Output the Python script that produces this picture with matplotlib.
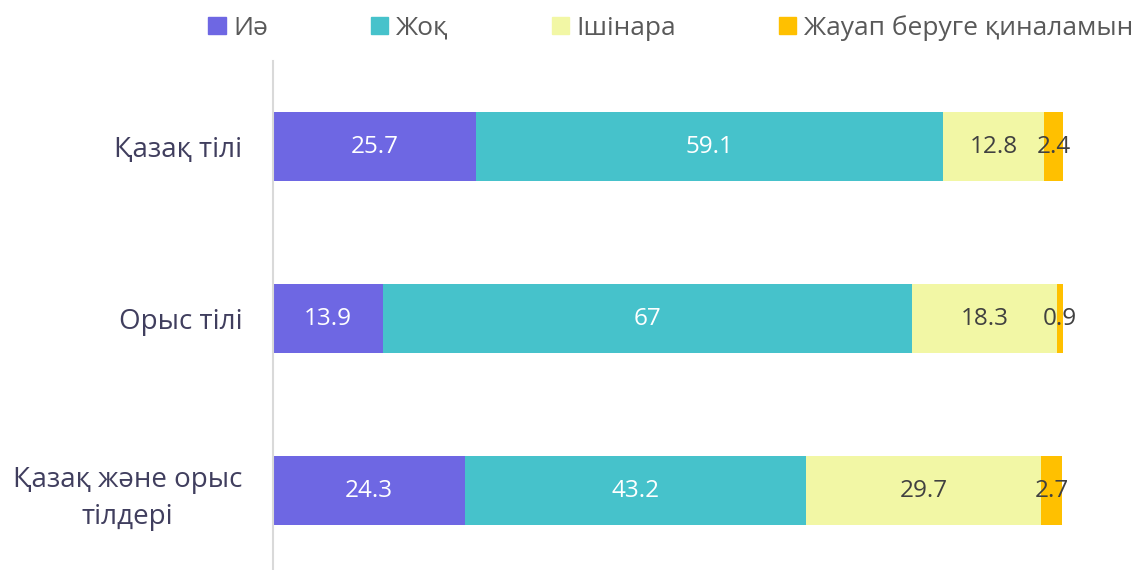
import matplotlib
matplotlib.use('Agg')
import matplotlib.pyplot as plt
from matplotlib.patches import Patch
import numpy as np

plt.rcParams['font.family'] = ['Open Sans', 'Noto Sans', 'DejaVu Sans']

categories = ['Қазақ тілі', 'Орыс тілі', 'Қазақ және орыс\nтілдері']
series_names = ['Иә', 'Жоқ', 'Ішінара', 'Жауап беруге қиналамын']
yes = [25.7, 13.9, 24.3]
no = [59.1, 67, 43.2]
partly = [12.8, 18.3, 29.7]
hard = [2.4, 0.9, 2.7]

colors = ['#6E67E3', '#46C2CB', '#F2F7A5', '#FFC000']
label_colors = ['white', 'white', '#404040', '#404040']

fig = plt.figure(figsize=(11.36, 5.7), dpi=100)
ax = fig.add_axes([273 / 1136, -6.5 / 570, (1063 - 273) / 1136, 516 / 570])

y = np.arange(len(categories))
left = np.zeros(len(categories))
for name, vals, col, lc in zip(series_names, [yes, no, partly, hard], colors, label_colors):
    vals = np.array(vals, dtype=float)
    bars = ax.barh(y, vals, left=left, height=0.4, color=col, label=name)
    for b, v in zip(bars, vals):
        txt = ('%g' % v)
        ax.text(b.get_x() + b.get_width() / 2, b.get_y() + b.get_height() / 2,
                txt, ha='center', va='center', color=lc, fontsize=17.5)
    left += vals

ax.set_xlim(0, 100)
ax.set_ylim(2.5, -0.5)
ax.set_yticks(y)
ax.set_yticklabels(categories, fontsize=20, color='#403E5E',
                   multialignment='center', linespacing=1.45)
ax.tick_params(axis='y', length=0, pad=22)
ax.set_xticks([])
for s in ['top', 'right', 'bottom']:
    ax.spines[s].set_visible(False)
ax.spines['left'].set_color('#D9D9D9')
ax.spines['left'].set_linewidth(1.5)

handles = [Patch(color=c, label=n) for c, n in zip(colors, series_names)]
leg = fig.legend(handles=handles, loc='center', bbox_to_anchor=(671 / 1136, 1 - 28 / 570),
                 ncol=4, frameon=False, fontsize=19, handlelength=0.65, handleheight=0.65,
                 handletextpad=0.3, columnspacing=3.9, labelcolor='#595959')

fig.savefig('out.png', dpi=100)
